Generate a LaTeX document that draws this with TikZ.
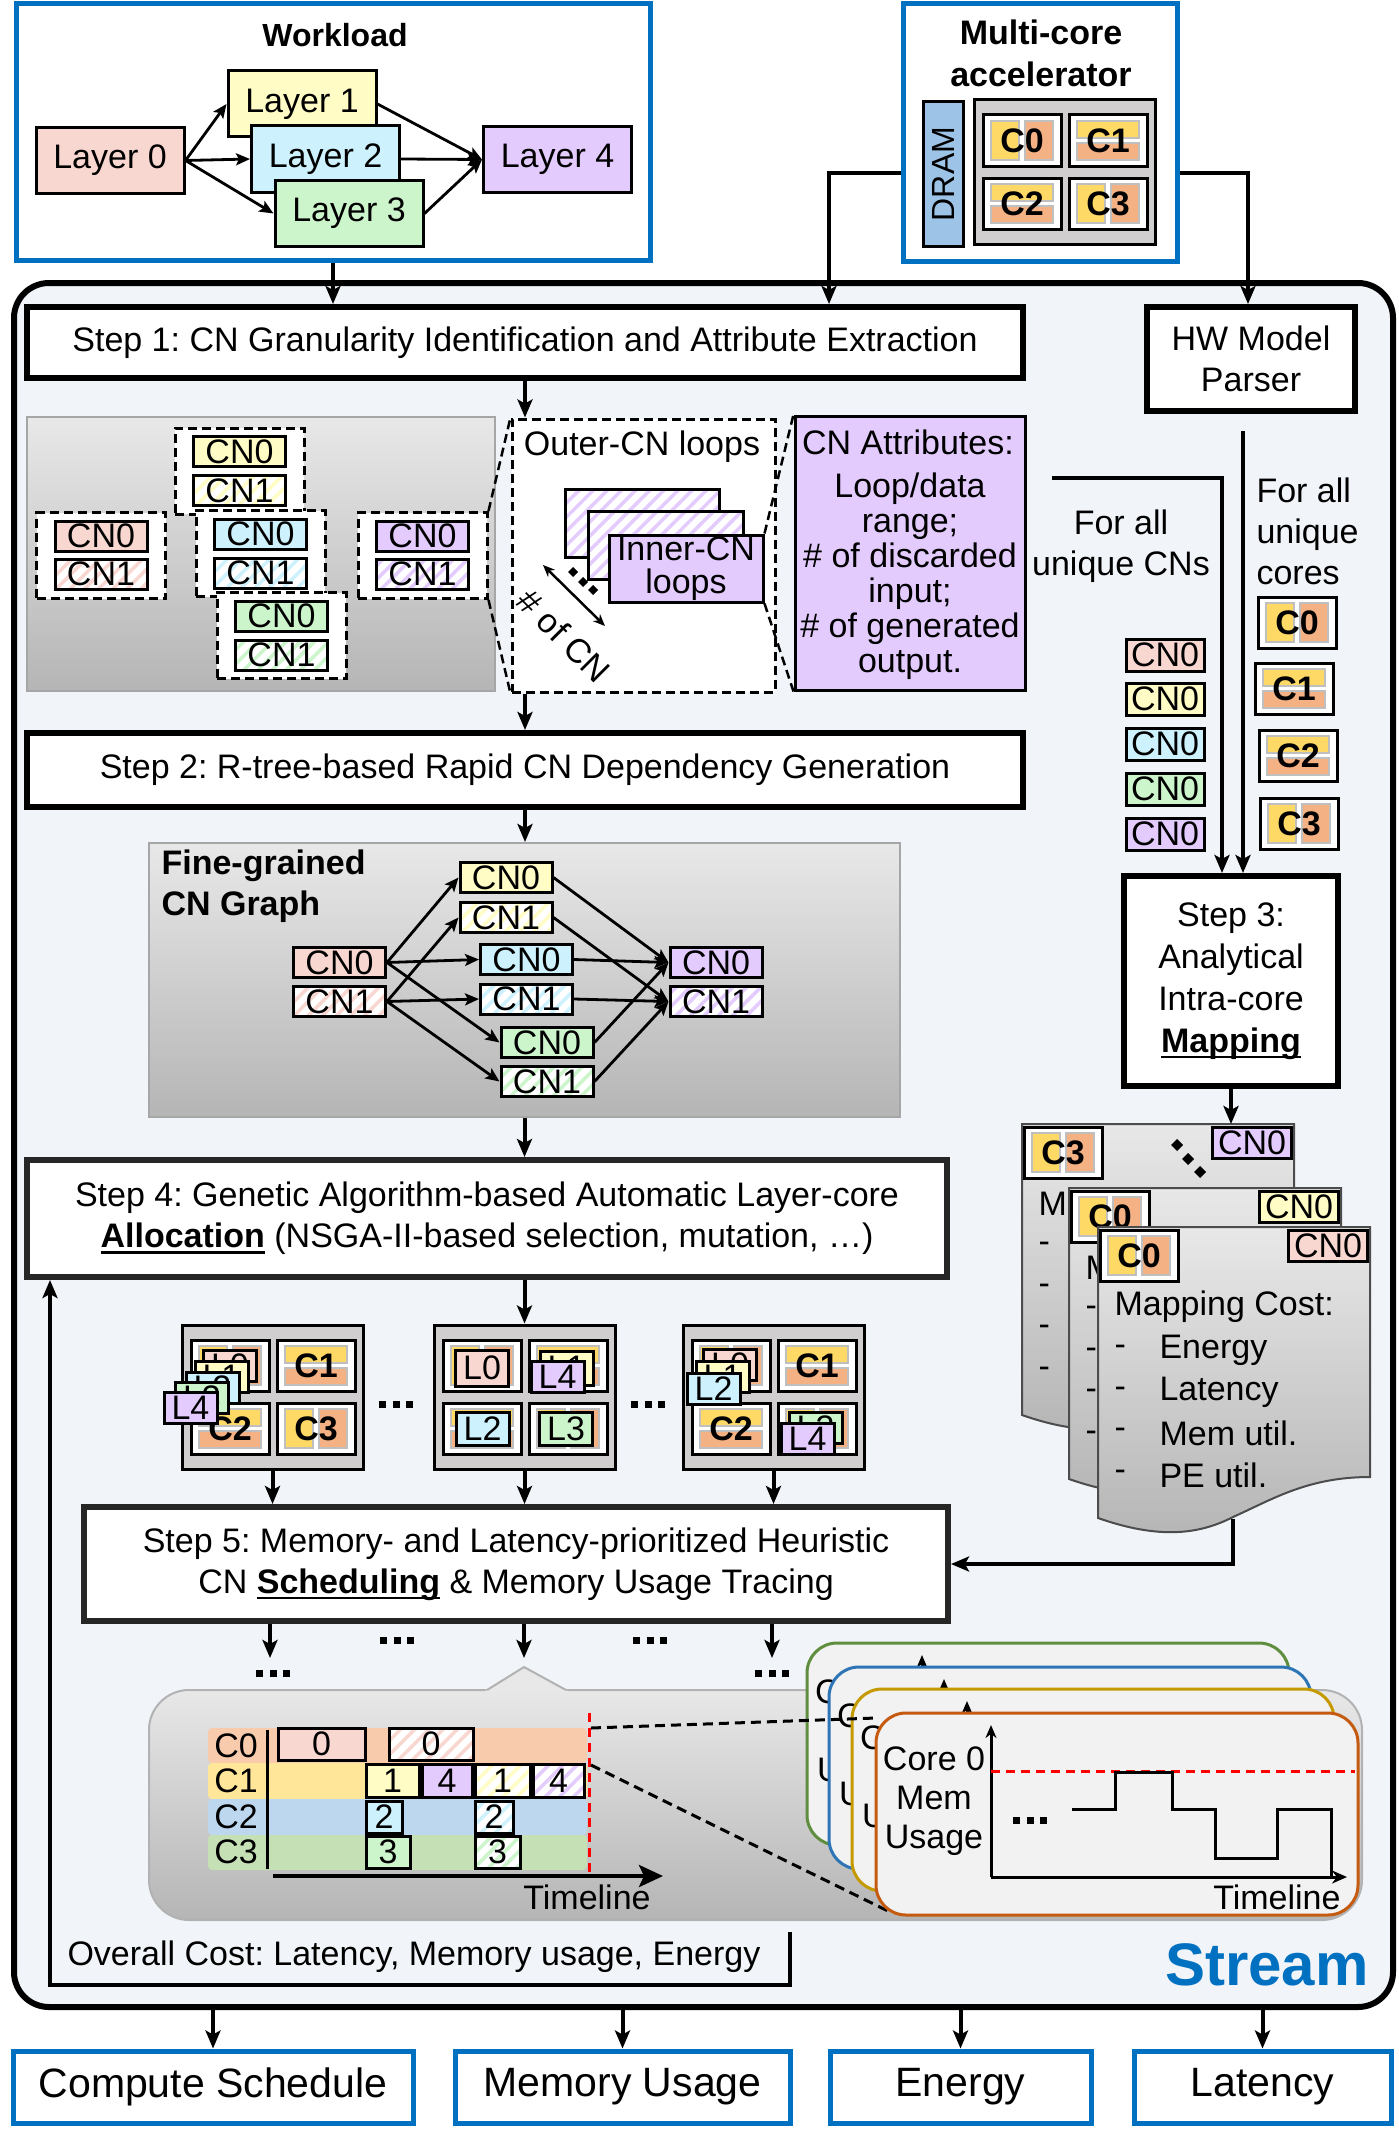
\documentclass[tikz,border=0pt]{standalone}
\usepackage{fontspec}
\setmainfont{Liberation Sans}
\usetikzlibrary{arrows.meta,patterns.meta}
\newcommand\fs{\fontsize{34}{41}\selectfont}
\newcommand\myul[1]{\setbox0\hbox{#1}\rlap{\rule[-6pt]{\wd0}{2.5pt}}\box0\relax}
\definecolor{sblue}{HTML}{0070C0}
\definecolor{pL}{HTML}{F9D7D1}
\definecolor{yL}{HTML}{FFFCC6}
\definecolor{bL}{HTML}{CDF1FD}
\definecolor{gL}{HTML}{CCF5CB}
\definecolor{vL}{HTML}{E3CBFD}
\definecolor{cyel}{HTML}{FFD966}
\definecolor{corg}{HTML}{F4B183}
\definecolor{dramc}{HTML}{9DC3E6}
\definecolor{accg}{HTML}{D0CECE}
\definecolor{sbg}{HTML}{F1F5F9}
\definecolor{rowA}{HTML}{F8CBAD}
\definecolor{rowB}{HTML}{FFE699}
\definecolor{rowC}{HTML}{BDD7EE}
\definecolor{rowD}{HTML}{C5E0B4}
\definecolor{pgreen}{HTML}{5E8E3E}
\definecolor{pblue}{HTML}{2E75B6}
\definecolor{pgold}{HTML}{C49A00}
\definecolor{porange}{HTML}{C55A11}
\definecolor{gtop}{HTML}{E8E8E8}
\definecolor{gbot}{HTML}{B5B5B5}
\definecolor{panelbg}{HTML}{F2F2F2}
\tikzset{
 arr/.style={line width=4pt,-{Stealth[length=18pt,width=15pt,inset=4pt]}},
 sarr/.style={line width=2.8pt,-{Stealth[length=14pt,width=12pt,inset=3pt]}},
 stepbox/.style={draw,line width=6pt,fill=white,inner sep=0pt,align=center},
 bluebox/.style={draw=sblue,line width=5pt,fill=white,inner sep=0pt},
 layerbox/.style={draw,line width=3pt,minimum width=148pt,minimum height=66pt,inner sep=0pt},
 hatch/.style={preaction={fill=white},pattern={Lines[angle=45,distance=10pt,line width=3.5pt]},pattern color=#1},
 cn/.style={draw,line width=3pt,minimum width=92pt,minimum height=30pt,inner sep=0pt,fill=#1},
 cnh/.style={draw,line width=3pt,minimum width=92pt,minimum height=30pt,inner sep=0pt,hatch=#1},
 grp/.style={draw,fill=white,line width=3pt,dash pattern=on 9pt off 5pt,minimum width=129pt,minimum height=86pt,inner sep=0pt},
 cedge/.style={draw=black!25,line width=1.5pt},
 corelbl/.style={font=\fs\bfseries,inner sep=0pt},
 lcard/.style={draw,line width=3pt,fill=#1,minimum width=53pt,minimum height=31pt,inner sep=0pt},
 gbox/.style={draw,line width=3pt,minimum height=32pt,inner sep=0pt},
 zoomline/.style={line width=2.5pt,dash pattern=on 9pt off 5pt},
 graypanel/.style={draw=black!35,line width=2pt,top color=gtop,bottom color=gbot,inner sep=0pt},
}
\newcommand\coreicon[5]{%
\begin{scope}[shift={(#2,#3)}]
 \draw[line width=3pt,fill=white] (0,0) rectangle (78,51);
 \if#4V
  \draw[cedge,fill=cyel] (8,6) rectangle (36,45);
  \draw[cedge,fill=corg] (42,6) rectangle (70,45);
 \else
  \draw[cedge,fill=cyel] (8,6) rectangle (70,23);
  \draw[cedge,fill=corg] (8,28) rectangle (70,45);
 \fi
 \node[corelbl] (#1) at (39,26) {#5};
\end{scope}}
\newcommand\coregrid[7]{%
\begin{scope}[shift={(#2,#3)}]
 \node[draw,line width=3pt,fill=accg,minimum width=181pt,minimum height=144pt,inner sep=0pt] (#1box) at (90.5,72) {};
 \coreicon{#1c0}{9}{15}{V}{#4}
 \coreicon{#1c1}{95}{15}{H}{#5}
 \coreicon{#1c2}{9}{78}{H}{#6}
 \coreicon{#1c3}{95}{78}{V}{#7}
\end{scope}}
\newcommand\edots[2]{\fill (#1-17,#2-3.5) rectangle ++(7,7); \fill (#1-3.5,#2-3.5) rectangle ++(7,7); \fill (#1+10,#2-3.5) rectangle ++(7,7);}
\newcommand\mapsheet[7]{%
\begin{scope}[shift={(#2,#3)}]
 \draw[draw=black!70,line width=2pt,top color=gtop,bottom color=gbot] (0,0) -- (272,0) -- (272,250) .. controls (210,250) and (175,272) .. (135,290) .. controls (100,308) and (60,312) .. (0,291) -- cycle;
 \coordinate (#1top) at (211,0);
 \coordinate (#1bot) at (135,292);
 \coreicon{#1c}{2}{3}{V}{#4}
 \node[cn=#5,minimum width=79pt,minimum height=31pt] (#1n) at (230,18.5) {CN0};
 \node[anchor=west] (#1t) at (13,80) {#6};
 \foreach \yy [count=\k] in {123,165,206,248}{
   \node[anchor=west] (#1d\k) at (13,\yy) {-};}
 #7
\end{scope}}
\newcommand\mempanel[5]{%
\begin{scope}[shift={(#2,#3)}]
 \node[draw=#4,line width=3pt,fill=panelbg,rounded corners=30pt,minimum width=482pt,minimum height=202pt,inner sep=0pt] (#1) at (241,101) {};
 \draw[line width=3pt,-{Stealth[length=13pt,width=11pt]}] (115,164) -- (115,12);
 \draw[line width=3pt,-{Stealth[length=15pt,width=13pt]}] (115,164) -- (471,164);
 \ifnum#5=1
 \node[align=center,font=\fontsize{34}{39}\selectfont] (#1t) at (58,88) {Core 0\\Mem\\Usage};
 \draw[red,line width=3pt,dash pattern=on 9pt off 6pt] (115,58) -- (479,58);
 \draw[line width=3pt] (196,96) -| (239,59) -| (296,96) -| (339,145) -| (401,96) -| (455,164);
 \edots{154}{107}
 \node[anchor=east] (#1tl) at (468,184) {Timeline};
 \else
 \node[anchor=west,inner sep=0pt] (#1c) at (8,49) {C};
 \node[anchor=west,inner sep=0pt] (#1u) at (10,127) {U};
 \fi
\end{scope}}

\begin{document}
\frenchspacing
\begin{tikzpicture}[x=1pt,y=-1pt,every node/.style={font=\fs}]
\useasboundingbox (0,0) rectangle (1399,2130);
\fill[white] (0,0) rectangle (1399,2130);

% ---------- Stream frame ----------
\node[draw,line width=6pt,rounded corners=35pt,fill=sbg,minimum width=1379pt,minimum height=1724pt,inner sep=0pt] (stream) at (703.5,1145) {};
\node[font=\fontsize{60}{60}\selectfont\bfseries,text=sblue,anchor=east] (streamtxt) at (1372,1965) {Stream};

% ---------- Workload ----------
\node[bluebox,minimum width=634pt,minimum height=256pt] (workload) at (333,132) {};
\node[font=\fontsize{32}{38}\selectfont\bfseries] (wltitle) at (335,35) {Workload};
\node[layerbox,fill=pL] (L0) at (110,160.5) {Layer 0};
\node[layerbox,fill=yL] (L1) at (302,104) {Layer 1};
\node[layerbox,fill=bL] (L2) at (325.5,159) {Layer 2};
\node[layerbox,fill=gL] (L3) at (349,213.5) {Layer 3};
\node[layerbox,fill=vL] (L4) at (557.5,159.5) {Layer 4};
\foreach \s/\t in {L0/L1,L0/L2,L0/L3,L1/L4,L2/L4,L3/L4}
  \draw[sarr] (\s.east) -- (\t.west);

% ---------- Accelerator ----------
\node[bluebox,minimum width=274pt,minimum height=257pt] (accel) at (1040,132.5) {};
\node[font=\fontsize{34}{42}\selectfont\bfseries,align=center] (acctitle) at (1041,53) {Multi-core\\accelerator};
\node[draw,line width=3pt,fill=dramc,rotate=90,minimum width=144pt,minimum height=40pt,inner sep=0pt,font=\fontsize{32}{32}\selectfont] (dram) at (943,174) {DRAM};
\coregrid{acc}{974}{100}{C0}{C1}{C2}{C3}

% ---------- Step 1 row ----------
\node[stepbox,minimum width=996pt,minimum height=71pt] (step1) at (525,342.5) {Step 1: CN Granularity Identification and Attribute Extraction};
\node[stepbox,minimum width=208pt,minimum height=104pt] (hw) at (1251,359) {HW Model\\Parser};
\coordinate (accLc) at (829,173);
\coordinate (accRc) at (1248,173);
\draw[arr] (workload.south) -- (workload.south |- step1.north);
\draw[arr] (accel.west |- accLc) -- (accLc) -- (accLc |- step1.north);
\draw[arr] (accel.east |- accRc) -- (accRc) -- (accRc |- hw.north);

% CN panel
\node[graypanel,minimum width=468pt,minimum height=274pt] (s1panel) at (261,554) {};
\node[grp] (grpY) at (239.5,471) {};
\node[cn=yL] (sy0) at (239.5,451.5) {CN0};
\node[cnh=yL] (sy1) at (239.5,490.5) {CN1};
\node[grp] (grpB) at (260.5,553.5) {};
\node[cn=bL] (sb0) at (260.5,534) {CN0};
\node[cnh=bL] (sb1) at (260.5,573) {CN1};
\node[grp] (grpG) at (281.5,635.5) {};
\node[cn=gL] (sg0) at (281.5,616) {CN0};
\node[cnh=gL] (sg1) at (281.5,655) {CN1};
\node[grp] (grpP) at (101,555.5) {};
\node[cn=pL] (sp0) at (101,536) {CN0};
\node[cnh=pL] (sp1) at (101,574) {CN1};
\node[grp] (grpV) at (422.5,555.5) {};
\node[cn=vL] (sv0) at (422.5,536) {CN0};
\node[cnh=vL] (sv1) at (422.5,574) {CN1};

% Outer-CN loops
\node[draw,fill=white,line width=3pt,dash pattern=on 9pt off 5pt,minimum width=263pt,minimum height=273pt,inner sep=0pt] (outer) at (643.5,555.5) {};
\node (outertxt) at (642,447) {Outer-CN loops};
\node[draw,line width=3pt,inner sep=0pt,minimum width=154pt,minimum height=68pt,hatch=vL] (inA) at (642,523) {};
\node[draw,line width=3pt,inner sep=0pt,minimum width=155pt,minimum height=68pt,hatch=vL] (inB) at (665.5,545) {};
\node[draw,line width=3pt,inner sep=0pt,minimum width=154pt,minimum height=67pt,fill=vL,align=center,font=\fontsize{34}{33}\selectfont] (inC) at (686,568.5) {Inner-CN\\loops};
\fill (573,567) -- (578,572) -- (573,577) -- (568,572) -- cycle;
\fill (583,577) -- (588,582) -- (583,587) -- (578,582) -- cycle;
\fill (593,585) -- (598,590) -- (593,595) -- (588,590) -- cycle;
\coordinate (nca) at (543,565);
\coordinate (ncb) at (605,626);
\draw[line width=2.5pt,{Stealth[length=12pt,width=10pt]}-{Stealth[length=12pt,width=10pt]}] (nca) -- (ncb);
\node[rotate=-45,inner sep=0pt] (numcn) at (564,636) {\# of CN};

% CN attributes
\node[draw,line width=3pt,fill=vL,minimum width=230pt,minimum height=274pt,inner sep=0pt] (attr) at (910,553) {};
\node (attrT) at (908,442) {CN Attributes:};
\node[align=center,font=\fontsize{34}{35}\selectfont] (attrB) at (910,576) {Loop/data\\range;\\\# of discarded\\input;\\\# of generated\\output.};
\draw[zoomline] (grpV.north east) -- (outer.north west);
\draw[zoomline] (grpV.south east) -- (outer.south west);
\draw[zoomline] (inC.north east) -- (attr.north west);
\draw[zoomline] (inC.south east) -- (attr.south west);

\draw[arr] (step1.south) -- (step1.south |- outer.north);

% unique CNs / cores
\node[align=center] (forcn) at (1121,546) {For all\\unique CNs};
\node[align=left,anchor=west] (forcore) at (1253,531) {For all\\unique\\cores};
\node[cn=pL,minimum width=78pt,minimum height=32pt] (ucp) at (1165,655) {CN0};
\node[cn=yL,minimum width=78pt,minimum height=32pt] (ucy) at (1165,699) {CN0};
\node[cn=bL,minimum width=78pt,minimum height=32pt] (ucb) at (1165,744) {CN0};
\node[cn=gL,minimum width=78pt,minimum height=32pt] (ucg) at (1165,789) {CN0};
\node[cn=vL,minimum width=78pt,minimum height=32pt] (ucv) at (1165,834) {CN0};
\coreicon{ucA}{1258}{597}{V}{C0}
\coreicon{ucB}{1255}{663}{H}{C1}
\coreicon{ucC}{1259}{730}{H}{C2}
\coreicon{ucD}{1260}{798}{V}{C3}

% ---------- Step 2 ----------
\node[stepbox,minimum width=996pt,minimum height=74pt] (step2) at (525,770) {Step 2: R-tree-based Rapid CN Dependency Generation};
\draw[arr] (step2.north |- outer.south) -- (step2.north);

% ---------- Step 3 ----------
\node[stepbox,minimum width=214pt,minimum height=210pt,font=\fontsize{34}{42}\selectfont] (step3) at (1231,981) {Step 3:\\Analytical\\Intra-core\\\myul{\textbf{Mapping}}};
\coordinate (attrLine) at (1052,478);
\draw[arr] (attrLine) -| ([xshift=-9pt]step3.north);
\coordinate (hwl) at ([xshift=-8pt,yshift=-17pt]hw.south);
\draw[arr] (hwl) -- (hwl |- step3.north);

% ---------- Fine-grained graph ----------
\node[graypanel,minimum width=751pt,minimum height=274pt] (cngraph) at (524.5,980) {};
\draw[arr] (step2.south) -- (step2.south |- cngraph.north);
\node[align=left,anchor=west,font=\fs\bfseries] (fgtitle) at (158,886) {Fine-grained\\CN Graph};
\node[cn=pL] (gp0) at (339.5,962.5) {CN0};
\node[cnh=pL] (gp1) at (339.5,1001.5) {CN1};
\node[cn=yL] (gy0) at (506,877.5) {CN0};
\node[cnh=yL] (gy1) at (506,917.5) {CN1};
\node[cn=bL] (gb0) at (526.5,959.5) {CN0};
\node[cnh=bL] (gb1) at (526.5,999) {CN1};
\node[cn=gL] (gg0) at (547,1042.5) {CN0};
\node[cnh=gL] (gg1) at (547,1081.5) {CN1};
\node[cn=vL] (gv0) at (716,962.5) {CN0};
\node[cnh=vL] (gv1) at (716,1001.5) {CN1};
\foreach \s/\t in {gp0/gy0,gp0/gb0,gp0/gg0,gp1/gy1,gp1/gb1,gp1/gg1,gy0/gv0,gy1/gv1,gb0/gv0,gb1/gv1,gg0/gv0,gg1/gv1}
  \draw[sarr] (\s.east) -- (\t.west);

% ---------- Step 4 ----------
\node[stepbox,draw=black!85,minimum width=920pt,minimum height=117pt] (step4) at (487,1218.5) {Step 4: Genetic Algorithm-based Automatic Layer-core\\\myul{\textbf{Allocation}} (NSGA-II-based selection, mutation, …)};
\draw[arr] (cngraph.south) -- (cngraph.south |- step4.north);

% allocation candidates
\coregrid{da}{182}{1325}{}{C1}{C2}{C3}
\node[lcard=pL] (daL0) at (230,1366) {L0};
\node[lcard=yL] (daL1) at (221.5,1377) {L1};
\node[lcard=bL] (daL2) at (212.5,1388) {L2};
\node[lcard=gL] (daL3) at (202,1398) {L3};
\node[lcard=vL] (daL4) at (190.5,1408) {L4};
\coregrid{db}{434}{1325}{}{}{}{}
\node[lcard=pL,minimum height=36pt] (dbL0) at (482,1368) {L0};
\node[lcard=yL,minimum height=34pt] (dbL1) at (566.5,1368) {L1};
\node[lcard=vL] (dbL4) at (557.5,1377) {L4};
\node[lcard=bL,minimum height=33pt] (dbL2) at (482.5,1429) {L2};
\node[lcard=gL,minimum height=33pt] (dbL3) at (566,1429) {L3};
\coregrid{dc}{683}{1325}{}{C1}{C2}{}
\node[lcard=pL] (dcL0) at (730,1364.5) {L0};
\node[lcard=yL] (dcL1) at (722.5,1377) {L1};
\node[lcard=bL] (dcL2) at (713.5,1388.5) {L2};
\node[lcard=gL] (dcL3) at (815.5,1428) {L3};
\node[lcard=vL] (dcL4) at (807.5,1438.5) {L4};
\edots{396}{1404}
\edots{648}{1404}
\draw[arr] (step4.south -| dbbox.north) -- (dbbox.north);

% ---------- Step 5 ----------
\node[stepbox,draw=black!85,minimum width=864pt,minimum height=114pt] (step5) at (516,1564) {Step 5: Memory- and Latency-prioritized Heuristic\\CN \myul{\textbf{Scheduling}} \& Memory Usage Tracing};
\draw[arr] (dabox.south) -- (dabox.south |- step5.north);
\draw[arr] (dbbox.south) -- (dbbox.south |- step5.north);
\draw[arr] (dcbox.south) -- (dcbox.south |- step5.north);

% mapping sheets
\mapsheet{msA}{1022}{1124}{C3}{vL}{Ma}{\fill (155,15)--(161,21)--(155,27)--(149,21)--cycle; \fill (166,29)--(172,35)--(166,41)--(160,35)--cycle; \fill (178,42)--(184,48)--(178,54)--(172,48)--cycle;}
\mapsheet{msB}{1069}{1188}{C0}{yL}{M}{}
\mapsheet{msC}{1098}{1227}{C0}{pL}{Mapping Cost:}{%
 \node[anchor=west] (msCw1) at (58,123) {Energy};
 \node[anchor=west] (msCw2) at (58,165) {Latency};
 \node[anchor=west] (msCw3) at (58,206) {Mem util.};
 \node[anchor=west] (msCw4) at (58,248) {PE util.};}
\draw[arr] (step3.south) -- (step3.south |- msAtop);
\draw[arr] (msCbot) |- (step5.east);

% arrows below step 5
\coordinate (s5a) at (270,1658);
\coordinate (s5b) at (524,1658);
\coordinate (s5c) at (772,1658);
\draw[arr] (step5.south -| s5a) -- (s5a);
\draw[arr] (step5.south -| s5b) -- (s5b);
\draw[arr] (step5.south -| s5c) -- (s5c);
\edots{397}{1640}
\edots{650}{1640}
\edots{273}{1673}
\edots{772}{1673}

% ---------- schedule callout ----------
\node[draw=black!30,line width=2pt,top color=gtop,bottom color=gbot,rounded corners=40pt,minimum width=1213pt,minimum height=230pt,inner sep=0pt] (callout) at (755.5,1805) {};
\fill[gtop] (484,1692) -- (524,1667) -- (569,1692) -- cycle;
\draw[black!30,line width=2pt] (487,1690) -- (524,1667) -- (566,1690);

\fill[rowA,rounded corners=4pt] (208,1728) rectangle (587,1763);
\fill[rowB,rounded corners=4pt] (208,1763) rectangle (587,1799);
\fill[rowC,rounded corners=4pt] (208,1799) rectangle (587,1835);
\fill[rowD,rounded corners=4pt] (208,1835) rectangle (587,1870);
\node (rl0) at (236,1746) {C0};
\node (rl1) at (236,1781) {C1};
\node (rl2) at (236,1817) {C2};
\node (rl3) at (236,1852) {C3};
\draw[line width=3pt] (267,1730) -- (267,1869);
\node[gbox,fill=pL,minimum width=87pt] (t0a) at (321.5,1744) {0};
\node[gbox,hatch=pL,minimum width=84pt] (t0b) at (431,1744) {0};
\node[gbox,fill=yL,minimum width=53pt,minimum height=33pt] (t1a) at (392.5,1780.5) {1};
\node[gbox,fill=vL,minimum width=50pt,minimum height=33pt] (t1b) at (447,1780.5) {4};
\node[gbox,hatch=yL,minimum width=55pt,minimum height=33pt] (t1c) at (502.5,1780.5) {1};
\node[gbox,hatch=vL,minimum width=51pt,minimum height=33pt] (t1d) at (558.5,1780.5) {4};
\node[gbox,fill=bL,minimum width=36pt] (t2a) at (384,1817) {2};
\node[gbox,hatch=bL,minimum width=38pt] (t2b) at (494,1817) {2};
\node[gbox,fill=gL,minimum width=44pt] (t3a) at (388,1852) {3};
\node[gbox,hatch=gL,minimum width=45pt] (t3b) at (497.5,1852) {3};
\draw[red,line width=3pt,dash pattern=on 9pt off 6pt] (589,1713) -- (589,1872);
\coordinate (tls) at (273,1876);
\coordinate (tle) at (663,1876);
\draw[line width=4pt,-{Stealth[length=24pt,width=22pt,inset=5pt]}] (tls) -- (tle);
\node (tltxt) at (587,1897) {Timeline};

% memory panels
\mempanel{mpA}{807}{1643}{pgreen}{0}
\mempanel{mpB}{829}{1667}{pblue}{0}
\mempanel{mpC}{852}{1689}{pgold}{0}
\coordinate (redtop) at (591,1728);
\coordinate (redmid) at (591,1765);
\draw[line width=3pt,dash pattern=on 10pt off 6pt] (redtop) -- (876,1718);
\draw[line width=3pt,dash pattern=on 10pt off 6pt] (redmid) -- (890,1912);
\mempanel{mpD}{876}{1713}{porange}{1}

% ---------- overall cost ----------
\node[anchor=west] (overall) at (64,1957) {Overall Cost: Latency, Memory usage, Energy};
\coordinate (ocTR) at (790,1932);
\coordinate (ocBL) at (50,1985);
\draw[arr] (ocTR) |- (ocBL) -- (ocBL |- step4.south);

% ---------- outputs ----------
\node[bluebox,minimum width=400pt,minimum height=72pt,font=\fontsize{41}{41}\selectfont] (out1) at (213,2087) {Compute Schedule};
\node[bluebox,minimum width=335pt,minimum height=72pt,font=\fontsize{41}{41}\selectfont] (out2) at (622.5,2087) {Memory Usage};
\node[bluebox,minimum width=261pt,minimum height=72pt,font=\fontsize{41}{41}\selectfont] (out3) at (960.5,2087) {Energy};
\node[bluebox,minimum width=257pt,minimum height=72pt,font=\fontsize{41}{41}\selectfont] (out4) at (1262.5,2087) {Latency};
\foreach \o in {out1,out2,out3,out4}
  \draw[arr] (\o.north |- stream.south) -- (\o.north);
\end{tikzpicture}
\end{document}
